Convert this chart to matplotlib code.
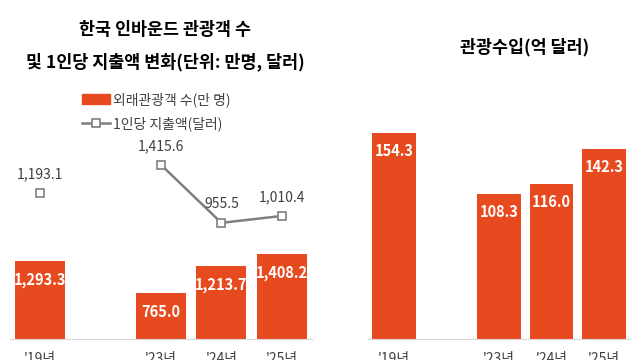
import numpy as np
import matplotlib.pyplot as plt
from matplotlib.patches import Patch
from matplotlib.lines import Line2D

plt.rcParams['font.family'] = ['Noto Sans CJK KR', 'DejaVu Sans']

# data
years = ["'19년", "", "'23년", "'24년", "'25년"]
visitors = [1293.3, np.nan, 765.0, 1213.7, 1408.2]      # 만 명
spend = [1193.1, np.nan, 1415.6, 955.5, 1010.4]         # 달러
revenue = [154.3, np.nan, 108.3, 116.0, 142.3]          # 억 달러

BAR = '#E84A1F'
LINE = '#7F7F7F'
TXT = '#404040'

fig = plt.figure(figsize=(6.4, 3.6), dpi=100)
W, H = 640, 360


def make_ax(x0, x1, y_top=80, y_base=339):
    return fig.add_axes([x0 / W, (H - y_base) / H, (x1 - x0) / W, (y_base - y_top) / H])


def style(ax):
    for s in ['top', 'right', 'left']:
        ax.spines[s].set_visible(False)
    ax.spines['bottom'].set_color('#D9D9D9')
    ax.set_yticks([])
    ax.tick_params(axis='x', length=0, pad=9, labelsize=10, labelcolor=TXT)


x = np.arange(len(years))

# left chart
ax = make_ax(10, 312)
ax.bar(x, visitors, width=0.83, color=BAR)
ax.set_xlim(-0.5, 4.5)
ax.set_ylim(0, 4288)
ax.set_xticks(x)
ax.set_xticklabels(years)
style(ax)
for xi, v in zip(x, visitors):
    if not np.isnan(v):
        ax.annotate(f'{v:,.1f}', (xi, v), xytext=(0, -19), textcoords='offset pixels',
                    ha='center', va='center', color='white', fontsize=10.5, fontweight='bold')

ax2 = ax.twinx()
ax2.set_ylim(34, 34 + 2055)
ax2.plot(x, spend, color=LINE, lw=1.8, marker='s', ms=6, mfc='white', mec=LINE, mew=1.2)
ax2.axis('off')
for xi, v in zip(x, spend):
    if not np.isnan(v):
        ax2.annotate(f'{v:,.1f}', (xi, v), xytext=(0, 19), textcoords='offset pixels',
                     ha='center', va='center', color=TXT, fontsize=10)

handles = [Patch(color=BAR),
           Line2D([], [], color=LINE, lw=1.8, marker='s', ms=6, mfc='white', mec=LINE, mew=1.2)]
fig.legend(handles, ['외래관광객 수(만 명)', '1인당 지출액(달러)'],
           loc='upper left', bbox_to_anchor=(82 / W, 1 - 92 / H), frameon=False,
           fontsize=10, labelcolor=TXT, handlelength=2.0, handletextpad=0.2,
           labelspacing=0.7, borderaxespad=0, borderpad=0)

fig.text(165 / W, 1 - 30 / H, '한국 인바운드 관광객 수', ha='center', va='center',
         fontsize=12.5, fontweight='bold')
fig.text(165 / W, 1 - 62 / H, '및 1인당 지출액 변화(단위: 만명, 달러)', ha='center', va='center',
         fontsize=12.5, fontweight='bold')

# right chart
bx = make_ax(368, 630)
bx.bar(x, revenue, width=0.83, color=BAR)
bx.set_xlim(-0.5, 4.5)
bx.set_ylim(0, 194)
bx.set_xticks(x)
bx.set_xticklabels(years)
style(bx)
for xi, v in zip(x, revenue):
    if not np.isnan(v):
        bx.annotate(f'{v:.1f}', (xi, v), xytext=(0, -18), textcoords='offset pixels',
                    ha='center', va='center', color='white', fontsize=10.5, fontweight='bold')

fig.text(525 / W, 1 - 47 / H, '관광수입(억 달러)', ha='center', va='center',
         fontsize=12.5, fontweight='bold')

fig.savefig('out.png', dpi=100)
